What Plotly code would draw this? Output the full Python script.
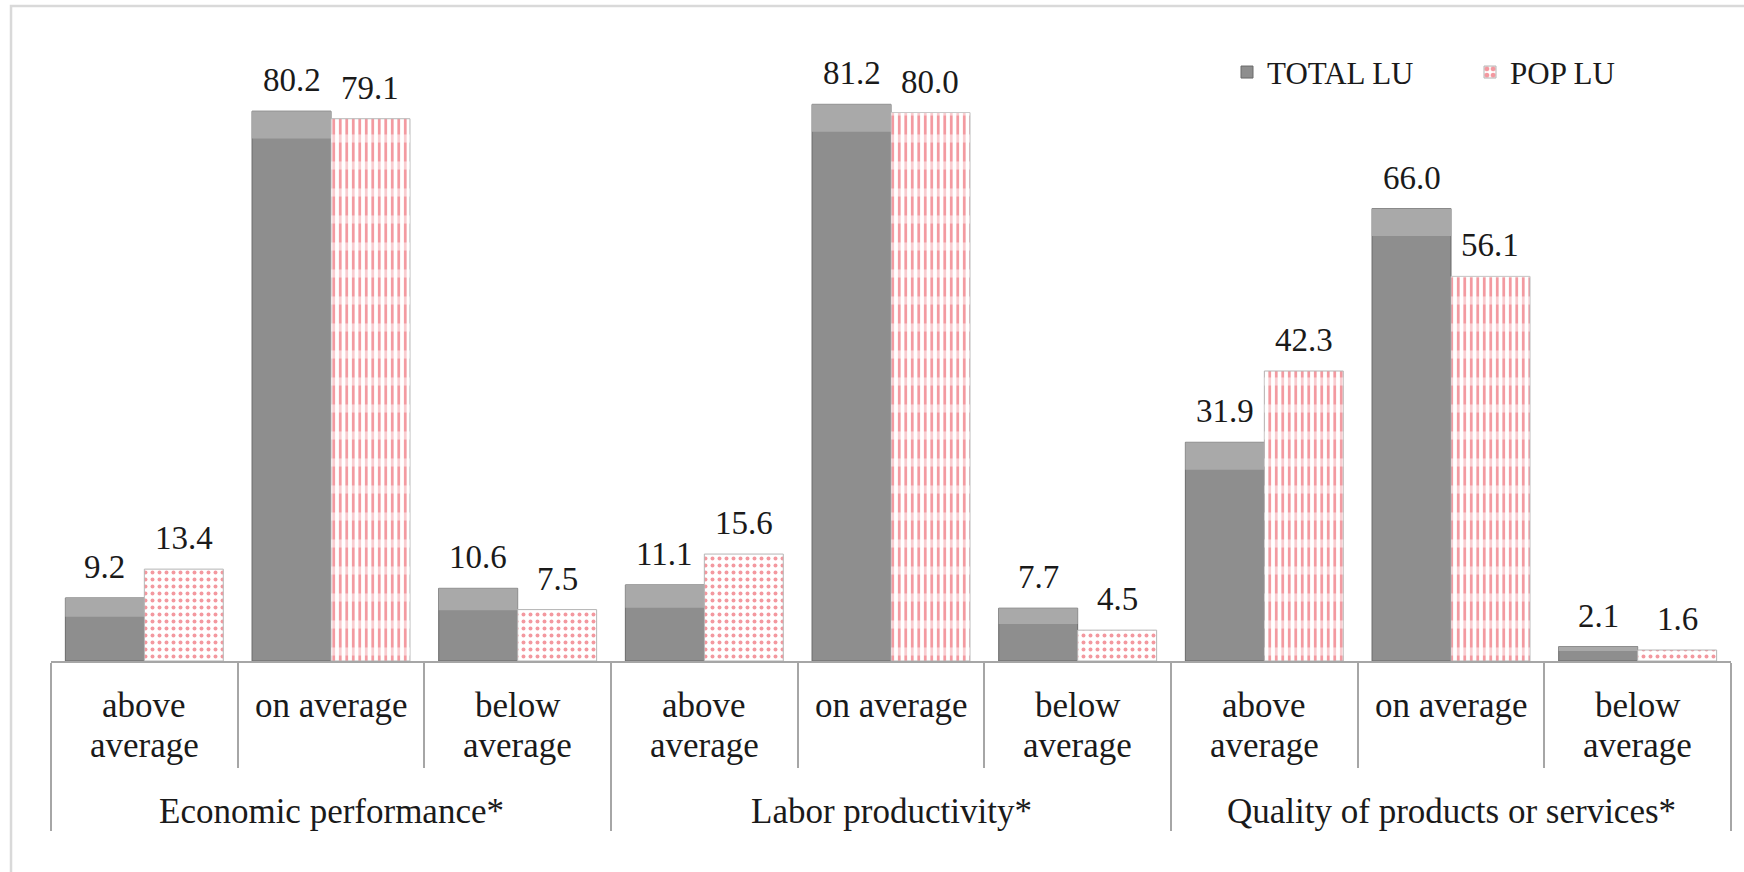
import plotly.graph_objects as go

# ---- data ----
groups = ["Economic performance*", "Labor productivity*", "Quality of products or services*"]
levels = ["above<br>average", "on average", "below<br>average"]
total_lu = [9.2, 80.2, 10.6, 11.1, 81.2, 7.7, 31.9, 66.0, 2.1]
pop_lu = [13.4, 79.1, 7.5, 15.6, 80.0, 4.5, 42.3, 56.1, 1.6]
series_names = ["TOTAL LU", "POP LU"]

# ---- style ----
FONT = "Liberation Serif"
GREY_LINE = "#a6a6a6"
BW = 0.423
CAP = 4.0
n = len(total_lu)
xs = list(range(n))
nl = len(levels)

fig = go.Figure()
fig.add_trace(go.Bar(
    x=xs, y=total_lu, name=series_names[0], offset=-BW, width=BW,
    marker=dict(color="#8e8e8e", line=dict(color="#6a6a6a", width=1)),
))
# subtle lighter bevel cap on the grey bars
caps = [min(CAP, v * 0.3) for v in total_lu]
fig.add_trace(go.Bar(
    x=xs, y=caps, base=[v - c for v, c in zip(total_lu, caps)],
    offset=-BW, width=BW, showlegend=False, hoverinfo="skip",
    marker=dict(color="#a9a9a9", line=dict(width=0)),
))
tall = [v >= 30 for v in pop_lu]
fig.add_trace(go.Bar(
    x=xs, y=pop_lu, name=series_names[1], offset=0.0, width=BW,
    marker=dict(
        color="white", line=dict(color="#b5b5b5", width=1),
        pattern=dict(shape=["|" if t else "." for t in tall],
                     size=[6.5 if t else 7 for t in tall],
                     solidity=[0.42 if t else 0.25 for t in tall],
                     fgcolor="#e8323f"),
    ),
))
fig.add_trace(go.Bar(
    x=xs, y=pop_lu, offset=0.0, width=BW, showlegend=False, hoverinfo="skip",
    marker=dict(
        color="rgba(0,0,0,0)", line=dict(width=0),
        pattern=dict(shape=["-" if t else "" for t in tall], size=27,
                     solidity=0.3, fgcolor="white"),
    ),
))

annotations = []
# data labels
for i in range(n):
    for val, off in ((total_lu[i], -BW / 2), (pop_lu[i], BW / 2)):
        annotations.append(dict(
            x=i + off, y=val, xref="x", yref="y", text=f"{val:.1f}",
            showarrow=False, yanchor="bottom", xanchor="center", yshift=11,
            font=dict(family=FONT, size=33, color="#1a1a1a"),
        ))
# category labels
for i in range(n):
    lines = levels[i % nl].split("<br>")
    for k, ln in enumerate(lines):
        annotations.append(dict(
            x=i, y=0, xref="x", yref="paper", text=ln, showarrow=False,
            xanchor="center", yanchor="middle", yshift=-44 - 40 * k,
            font=dict(family=FONT, size=35, color="#1a1a1a"),
        ))
# group labels
for g, name in enumerate(groups):
    annotations.append(dict(
        x=g * nl + (nl - 1) / 2, y=0, xref="x", yref="paper", text=name,
        showarrow=False, xanchor="center", yanchor="middle", yshift=-150,
        font=dict(family=FONT, size=35, color="#1a1a1a"),
    ))

group_bounds = [g * nl - 0.5 for g in range(len(groups) + 1)]
all_bounds = [i - 0.5 for i in range(n + 1)]

fig.update_layout(
    width=1744, height=872,
    margin=dict(l=51, r=13, t=44, b=211),
    paper_bgcolor="white", plot_bgcolor="white",
    barmode="overlay",
    annotations=annotations,
    showlegend=True,
    legend=dict(orientation="h", x=0.700, y=0.954, xanchor="left", yanchor="middle",
                font=dict(family=FONT, size=31, color="#1a1a1a"),
                bgcolor="rgba(0,0,0,0)", entrywidth=198, itemwidth=30),
    xaxis=dict(range=[-0.5, n - 0.5], showgrid=False, zeroline=False,
               showline=True, linecolor=GREY_LINE, linewidth=1.5,
               tickmode="array", tickvals=group_bounds, ticks="outside", ticklen=168,
               tickcolor=GREY_LINE, tickwidth=1.5, showticklabels=False,
               minor=dict(tickvals=all_bounds, ticks="outside", ticklen=105,
                          tickcolor=GREY_LINE, tickwidth=1.5, showgrid=False)),
    yaxis=dict(range=[0, 90], visible=False),
    shapes=[dict(type="rect", xref="paper", yref="paper",
                 x0=-0.0238, x1=1.02, y0=-0.5, y1=1.0616,
                 line=dict(color="#d9d9d9", width=2.5), layer="below")],
)

fig.write_html("out.html")
